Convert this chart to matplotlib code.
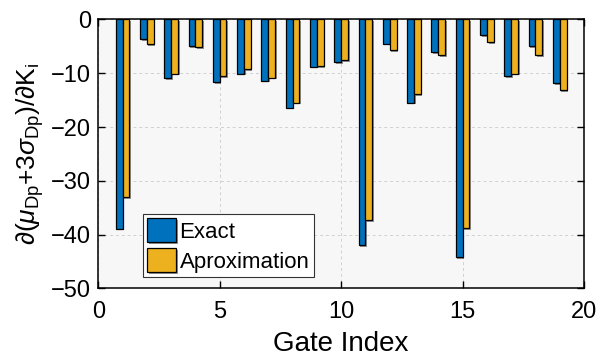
import numpy as np
import matplotlib
matplotlib.use('Agg')
import matplotlib.pyplot as plt
import matplotlib.patheffects as pe

plt.rcParams['font.family'] = ['Liberation Sans', 'DejaVu Sans']
plt.rcParams['mathtext.fontset'] = 'custom'
plt.rcParams['mathtext.rm'] = 'Liberation Sans'
plt.rcParams['mathtext.it'] = 'Liberation Sans:italic'

# values
gates = np.arange(1, 20)
exact = [-38.9, -3.7, -10.9, -5.0, -11.7, -10.1, -11.4, -16.4, -8.8, -8.0,
         -42.0, -4.5, -15.5, -6.1, -44.2, -2.9, -10.6, -5.0, -11.8]
approx = [-33.1, -4.6, -10.1, -5.1, -10.5, -9.3, -10.8, -15.5, -8.7, -7.6,
          -37.3, -5.7, -13.9, -6.6, -38.8, -4.2, -10.1, -6.7, -13.1]

fig = plt.figure(figsize=(5.99, 3.6), dpi=100)
ax = fig.add_axes([0.164, 0.199, 0.811, 0.747])
ax.set_facecolor('#f7f7f7')

w = 0.28
shadow = [pe.SimplePatchShadow(offset=(1.2, -1.2), shadow_rgbFace='0.3', alpha=0.6), pe.Normal()]
b1 = ax.bar(gates - w / 2, exact, w, color='#0072BD', edgecolor='black', linewidth=0.9,
            label='Exact', zorder=3)
b2 = ax.bar(gates + w / 2, approx, w, color='#EDB120', edgecolor='black', linewidth=0.9,
            label='Aproximation', zorder=3)
for b in list(b1) + list(b2):
    b.set_path_effects(shadow)

ax.set_xlim(0, 20)
ax.set_ylim(-50, 0)
ax.set_xticks([0, 5, 10, 15, 20])
ax.set_yticks([-50, -40, -30, -20, -10, 0])
ax.grid(True, color='#d0d0d0', linestyle=(0, (3, 3)), linewidth=0.7, zorder=0)
ax.tick_params(direction='in', top=True, right=True, labelsize=17, length=5, width=1)
ax.tick_params(axis='x', pad=9)
ax.tick_params(axis='y', pad=5)
for s in ax.spines.values():
    s.set_linewidth(1.1)

ax.set_xlabel('Gate Index', fontsize=20, labelpad=6)
ax.set_ylabel(r'$\partial(\mu_{\mathrm{Dp}}$+3$\sigma_{\mathrm{Dp}})/\partial$K$_{\mathrm{i}}$',
              fontsize=19, labelpad=4)

leg = ax.legend(loc='lower left', bbox_to_anchor=(0.092, 0.042), borderaxespad=0,
                fontsize=16, fancybox=False, framealpha=1, edgecolor='#333333',
                handlelength=1.3, handleheight=1.3, handletextpad=0.15,
                borderpad=0.2, labelspacing=0.25)
leg.get_frame().set_linewidth(0.8)

fig.savefig('out.png', dpi=100)
